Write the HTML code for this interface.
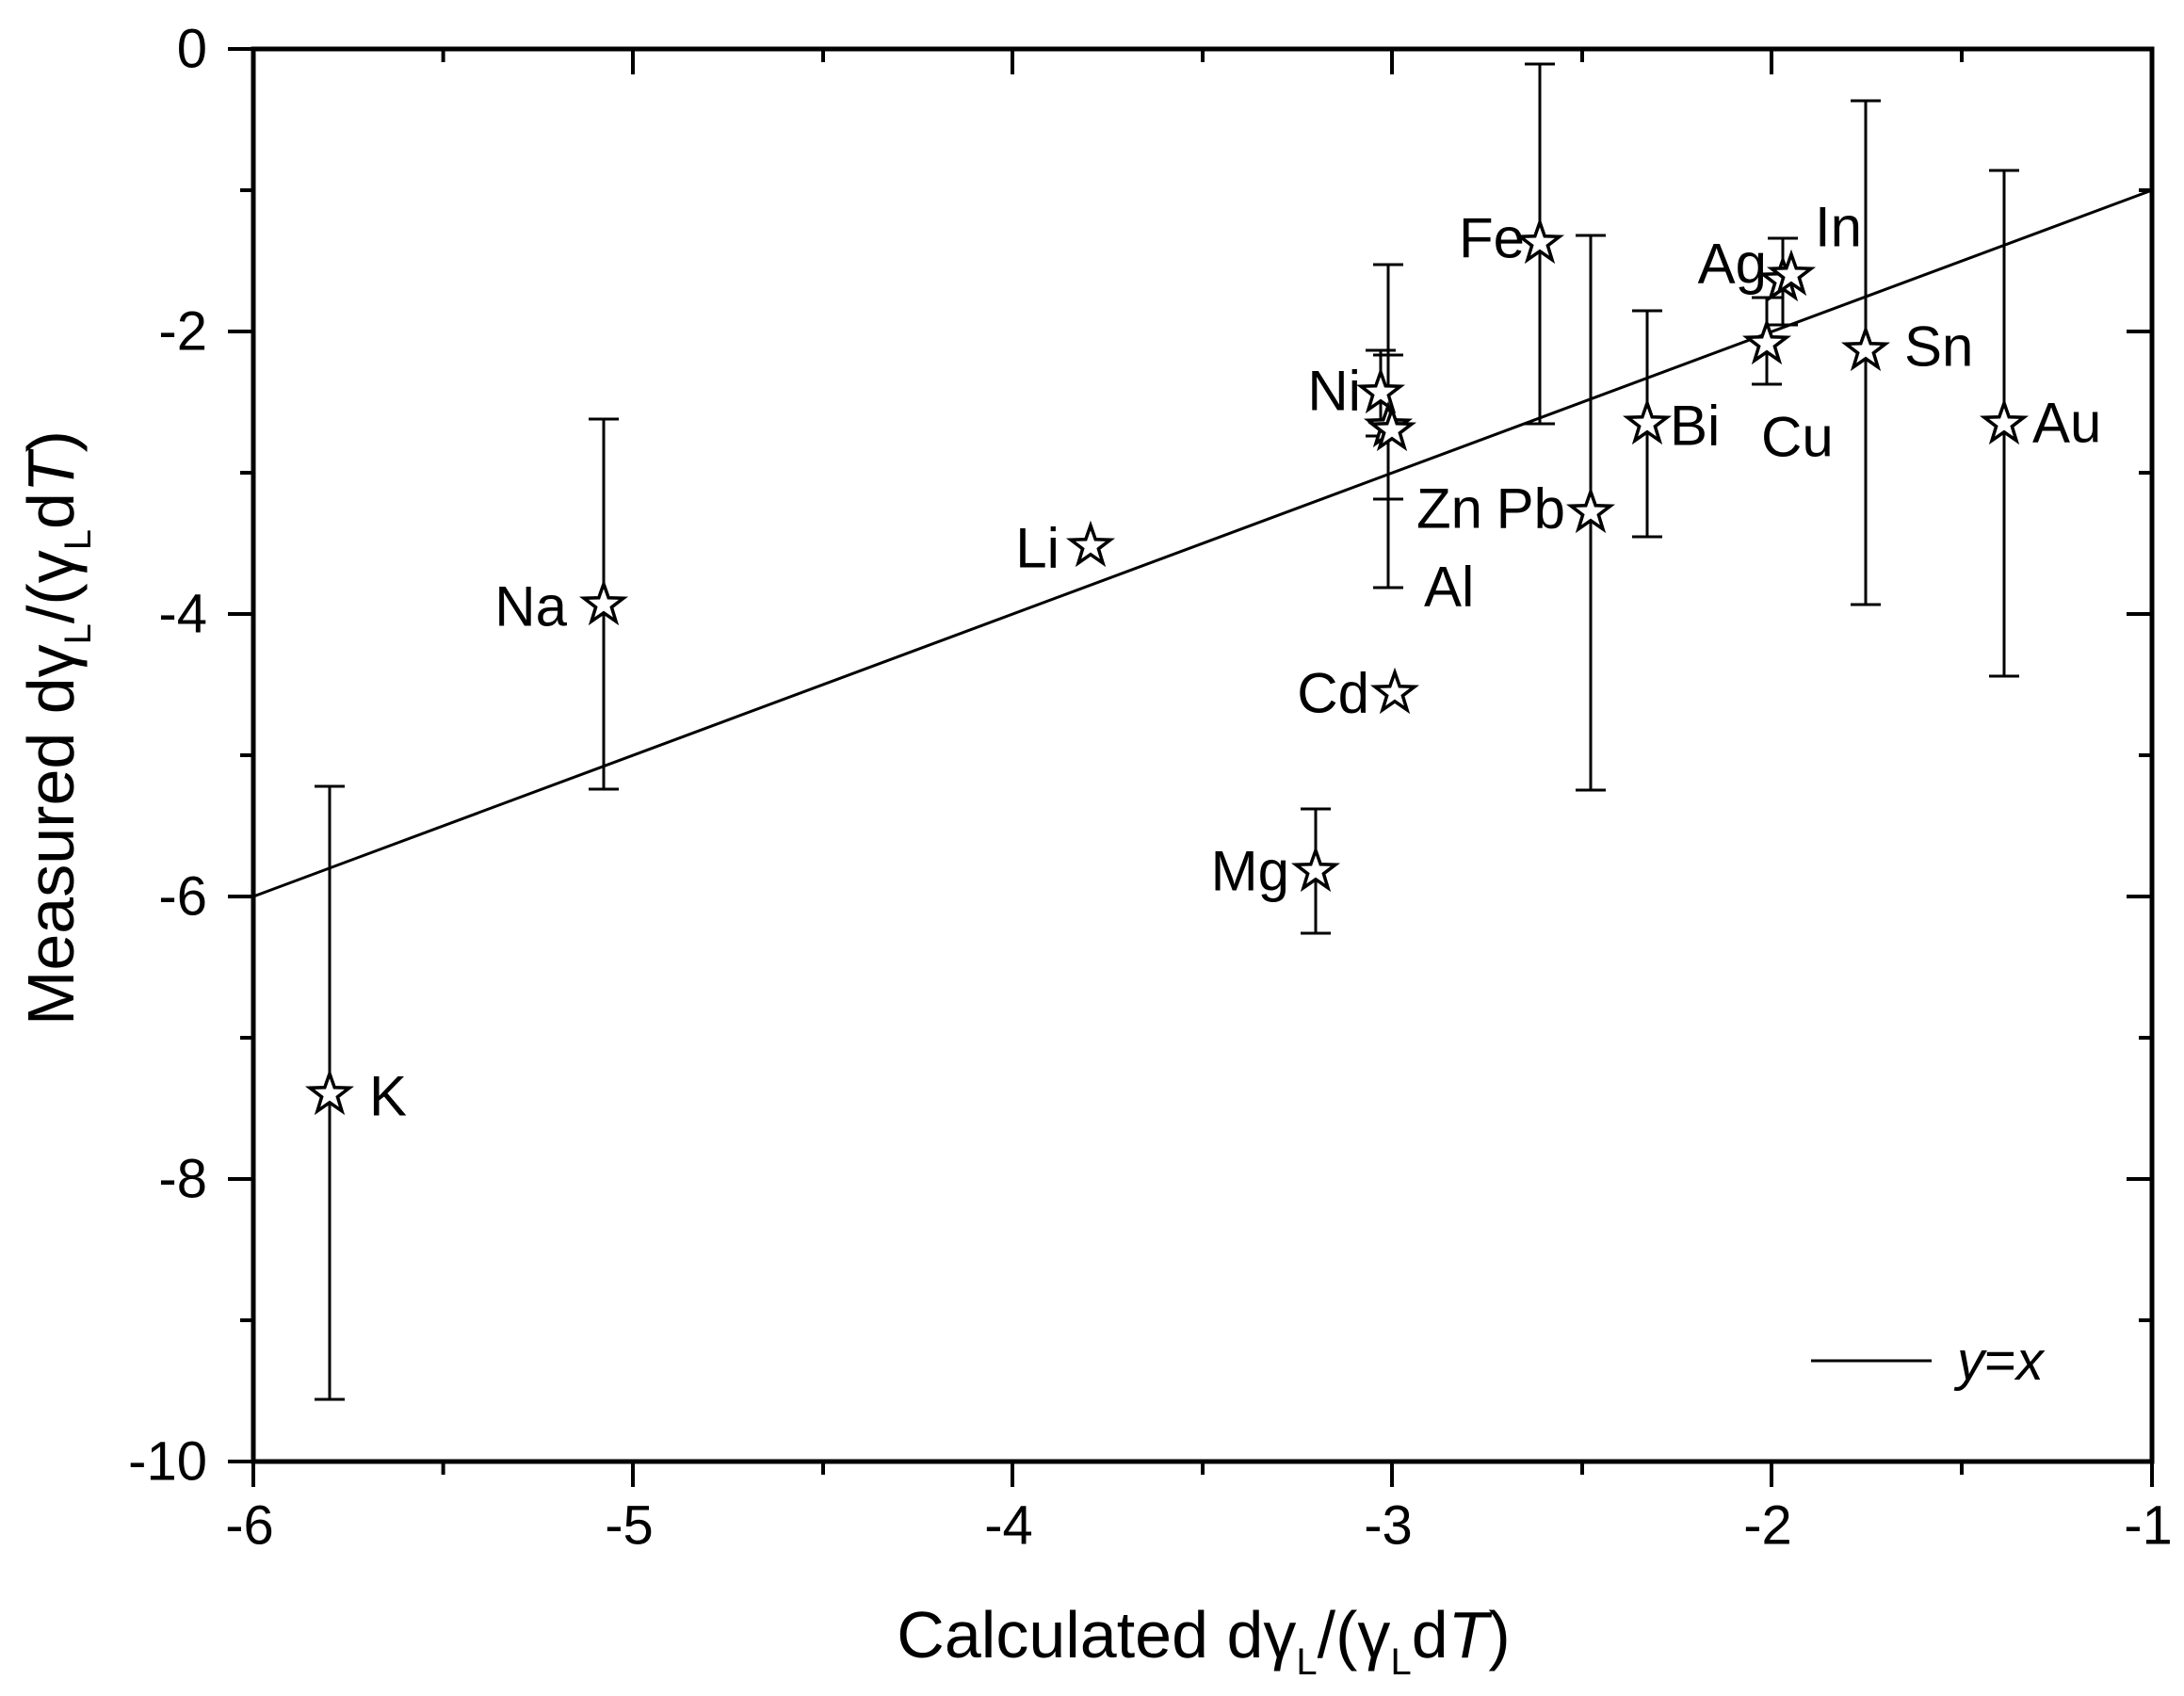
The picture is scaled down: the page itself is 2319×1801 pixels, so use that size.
<!DOCTYPE html>
<html><head><meta charset="utf-8"><style>body{margin:0;background:#fff}svg{display:block}text{font-family:"Liberation Sans",sans-serif;fill:#000}</style></head><body>
<svg width="2319" height="1801" viewBox="0 0 2319 1801" xmlns="http://www.w3.org/2000/svg">
<defs>
<path id="st" d="M0,-22 L5.2,-7.2 L21,-6.8 L8.4,2.8 L13,17.8 L0,8.8 L-13,17.8 L-8.4,2.8 L-21,-6.8 L-5.2,-7.2 Z" fill="#fff" stroke="#000" stroke-width="3.5"/>
</defs>
<g stroke="#000" stroke-width="5" fill="none">
<rect x="269" y="52" width="2016" height="1500"/>
</g>
<g stroke="#000" stroke-width="4">
<path d="M269,1552v27M470.6,1552v14M672,1552v27M874,1552v14M1075,1552v27M1277,1552v14M1478,1552v27M1680,1552v14M1881,1552v27M2083,1552v14M2285,1552v27"/>
<path d="M470.6,52v14M672,52v27M874,52v14M1075,52v27M1277,52v14M1478,52v27M1680,52v14M1881,52v27M2083,52v14"/>
<path d="M269,52h-27M269,202h-14M269,352h-27M269,502h-14M269,652h-27M269,802h-14M269,952h-27M269,1102h-14M269,1252h-27M269,1402h-14M269,1552h-27"/>
<path d="M2285,202h-14M2285,352h-27M2285,502h-14M2285,652h-27M2285,802h-14M2285,952h-27M2285,1102h-14M2285,1252h-27M2285,1402h-14"/>
</g>
<g font-size="58" text-anchor="end" dominant-baseline="central">
<text x="220" y="52">0</text><text x="220" y="352">-2</text><text x="220" y="652">-4</text><text x="220" y="952">-6</text><text x="220" y="1252">-8</text><text x="220" y="1552">-10</text>
</g>
<g font-size="58" text-anchor="middle" dominant-baseline="central">
<text x="265" y="1620">-6</text><text x="668" y="1620">-5</text><text x="1071" y="1620">-4</text><text x="1474" y="1620">-3</text><text x="1877" y="1620">-2</text><text x="2281" y="1620">-1</text>
</g>
<line x1="269" y1="952" x2="2285" y2="202" stroke="#000" stroke-width="3"/>
<g stroke="#000" stroke-width="3">
<path d="M350,835V1486M334,835h32M334,1486h32"/>
<path d="M641,445V838M625,445h32M625,838h32"/>
<path d="M1397,859V991M1381,859h32M1381,991h32"/>
<path d="M1474,281V624M1458,281h32M1458,624h32"/>
<path d="M1474,377V530M1458,377h32M1458,530h32"/>
<path d="M1466,372V463M1450,372h32M1450,463h32"/>
<path d="M1635,68V450M1619,68h32M1619,450h32"/>
<path d="M1689,250V839M1673,250h32M1673,839h32"/>
<path d="M1749,330V570M1733,330h32M1733,570h32"/>
<path d="M1876,316V408M1860,316h32M1860,408h32"/>
<path d="M1893,253V345M1877,253h32M1877,345h32"/>
<path d="M1981,107V642M1965,107h32M1965,642h32"/>
<path d="M2128,181V718M2112,181h32M2112,718h32"/>
</g>
<g>
<use href="#st" x="350" y="1162"/>
<use href="#st" x="641" y="642"/>
<use href="#st" x="1158" y="580"/>
<use href="#st" x="1397" y="925"/>
<use href="#st" x="1481" y="736"/>
<use href="#st" x="1466" y="417"/>
<use href="#st" x="1474" y="453"/>
<use href="#st" x="1478" y="457"/>
<use href="#st" x="1635" y="258"/>
<use href="#st" x="1689" y="544"/>
<use href="#st" x="1749" y="450"/>
<use href="#st" x="1876" y="365"/>
<use href="#st" x="1893" y="298"/>
<use href="#st" x="1902" y="292"/>
<use href="#st" x="1981" y="372"/>
<use href="#st" x="2128" y="450"/>
</g>
<g font-size="60" dominant-baseline="central">
<text x="392" y="1164">K</text>
<text x="602" y="644" text-anchor="end">Na</text>
<text x="1125" y="582" text-anchor="end">Li</text>
<text x="1369" y="925" text-anchor="end">Mg</text>
<text x="1454" y="736" text-anchor="end">Cd</text>
<text x="1445" y="415" text-anchor="end">Ni</text>
<text x="1504" y="540">Zn</text>
<text x="1512" y="623">Al</text>
<text x="1662" y="540" text-anchor="end">Pb</text>
<text x="1619" y="253" text-anchor="end">Fe</text>
<text x="1773" y="452">Bi</text>
<text x="1876" y="280" text-anchor="end">Ag</text>
<text x="1927" y="241">In</text>
<text x="1870" y="464">Cu</text>
<text x="2022" y="368">Sn</text>
<text x="2158" y="449">Au</text>
</g>
<line x1="1923" y1="1445" x2="2051" y2="1445" stroke="#000" stroke-width="3"/>
<text x="2078" y="1445" font-size="58" dominant-baseline="central"><tspan font-style="italic">y</tspan>=<tspan font-style="italic">x</tspan></text>
<text x="1278" y="1760" font-size="70" text-anchor="middle">Calculated d<tspan>γ</tspan><tspan font-size="40" dy="18">L</tspan><tspan dy="-18">/(γ</tspan><tspan font-size="40" dy="18">L</tspan><tspan dy="-18">d</tspan><tspan font-style="italic">T</tspan>)</text>
<text transform="translate(78,773) rotate(-90)" font-size="70" text-anchor="middle">Measured dγ<tspan font-size="40" dy="18">L</tspan><tspan dy="-18">/(γ</tspan><tspan font-size="40" dy="18">L</tspan><tspan dy="-18">d</tspan><tspan font-style="italic">T</tspan>)</text>
</svg>
</body></html>
